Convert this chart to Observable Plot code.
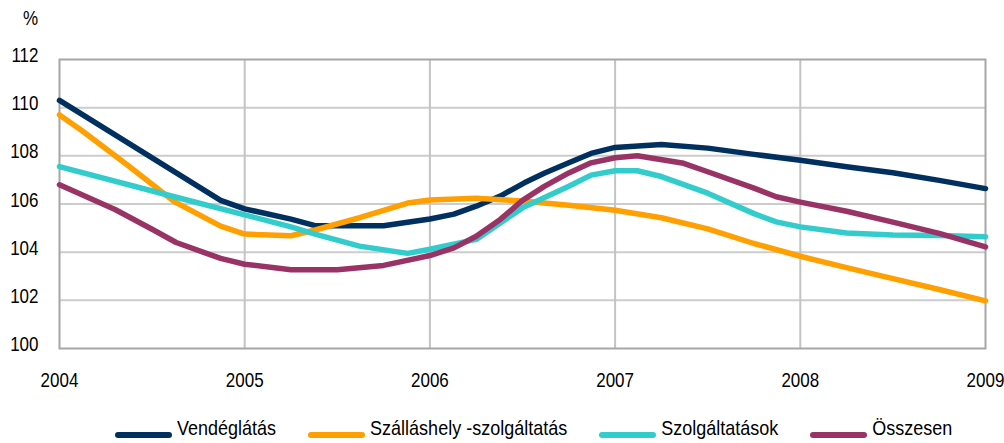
<!DOCTYPE html>
<html>
<head>
<meta charset="utf-8">
<script src="https://cdn.jsdelivr.net/npm/d3@7"></script>
<script src="https://cdn.jsdelivr.net/npm/@observablehq/plot@0.6"></script>
<style>
  html, body { margin: 0; padding: 0; background: #fff; }
  body { width: 1004px; height: 443px; position: relative; overflow: hidden; font-family: "Liberation Sans", Arial, sans-serif; }
  #unit { position: absolute; left: 23px; top: 9px; font-size: 17px; color: #000; transform: scaleY(1.2); }
  #legend { position: absolute; left: 115px; top: 419px; display: flex; gap: 32px; font-size: 18px; line-height: 21px; color: #000; white-space: nowrap; }
  .item { display: flex; align-items: center; }
  .item span { display: inline-block; transform: scaleY(1.08); }
  .sw { width: 57px; height: 6px; border-radius: 3px; margin-right: 5px; margin-top: 10px; }
</style>
</head>
<body>
<div id="chart"></div>
<div id="unit">%</div>
<div id="legend"></div>
<script>
const seriesNames = ["Vendéglátás", "Szálláshely -szolgáltatás", "Szolgáltatások", "Összesen"];
const seriesColors = ["#00305f", "#ff9f00", "#33cccc", "#993366"];
const xTicks = [2004, 2005, 2006, 2007, 2008, 2009];
const yTicks = [100, 102, 104, 106, 108, 110, 112];

const vendX = [2004, 2004.87, 2005.0, 2005.25, 2005.38, 2005.75, 2006.0, 2006.13, 2006.25, 2006.38, 2006.51, 2006.62, 2006.75, 2006.87, 2007.0, 2007.25, 2007.5, 2007.75, 2008.0, 2008.25, 2008.5, 2008.75, 2009];
const vendY = [110.3, 106.15, 105.8, 105.37, 105.1, 105.1, 105.38, 105.58, 105.91, 106.33, 106.88, 107.29, 107.71, 108.1, 108.35, 108.47, 108.32, 108.06, 107.82, 107.55, 107.3, 106.98, 106.64];

const szallX = [2004, 2004.12, 2004.37, 2004.62, 2004.87, 2005.0, 2005.25, 2005.38, 2005.62, 2005.88, 2006.0, 2006.25, 2006.5, 2006.75, 2007.0, 2007.25, 2007.5, 2007.75, 2008.0, 2008.25, 2008.5, 2008.75, 2009];
const szallY = [109.7, 109.05, 107.6, 106.1, 105.08, 104.75, 104.68, 104.92, 105.43, 106.04, 106.17, 106.24, 106.12, 105.95, 105.74, 105.43, 104.97, 104.36, 103.83, 103.36, 102.9, 102.45, 101.98];

const szolgX = [2004, 2004.62, 2005.0, 2005.25, 2005.38, 2005.62, 2005.88, 2006.0, 2006.25, 2006.5, 2006.75, 2006.87, 2007.0, 2007.12, 2007.25, 2007.5, 2007.75, 2007.87, 2008.0, 2008.25, 2008.5, 2008.75, 2009];
const szolgY = [107.55, 106.3, 105.55, 105.05, 104.75, 104.25, 103.95, 104.12, 104.53, 105.84, 106.74, 107.2, 107.38, 107.38, 107.14, 106.45, 105.6, 105.26, 105.05, 104.8, 104.71, 104.69, 104.64];

const osszX = [2004, 2004.3, 2004.5, 2004.63, 2004.87, 2005.0, 2005.25, 2005.5, 2005.75, 2006.0, 2006.13, 2006.25, 2006.38, 2006.5, 2006.62, 2006.75, 2006.87, 2007.0, 2007.12, 2007.37, 2007.5, 2007.75, 2007.87, 2008.0, 2008.25, 2008.5, 2008.75, 2009];
const osszY = [106.8, 105.77, 104.95, 104.4, 103.74, 103.5, 103.27, 103.27, 103.45, 103.86, 104.18, 104.66, 105.36, 106.15, 106.74, 107.29, 107.71, 107.92, 108.0, 107.69, 107.34, 106.66, 106.3, 106.08, 105.7, 105.25, 104.78, 104.22];

const xsAll = [vendX, szallX, szolgX, osszX];
const ysAll = [vendY, szallY, szolgY, osszY];
const rows = [];
seriesNames.forEach((name, i) => {
  xsAll[i].forEach((x, j) => rows.push({series: name, x, y: ysAll[i][j]}));
});

const chart = Plot.plot({
  width: 1004,
  height: 412,
  marginLeft: 59,
  marginRight: 19,
  marginTop: 59,
  marginBottom: 64,
  style: {fontFamily: "'Liberation Sans', Arial, sans-serif", fontSize: "17px", color: "#000", background: "#fff"},
  x: {domain: [2004, 2009]},
  y: {domain: [100, 112]},
  color: {domain: seriesNames, range: seriesColors},
  marks: [
    Plot.ruleY(yTicks.slice(1, -1), {stroke: "#cccccc", strokeWidth: 2}),
    Plot.ruleX(xTicks.slice(1, -1), {stroke: "#c4c4c4", strokeWidth: 2}),
    Plot.frame({stroke: "#a6a6a6", strokeWidth: 2}),
    Plot.axisY({ticks: yTicks, tickSize: 0, tickPadding: 21, dy: -4, label: null, fontSize: 17}),
    Plot.axisX({ticks: xTicks, tickSize: 0, tickPadding: 24, tickFormat: d => String(d), label: null, fontSize: 17}),
    Plot.line(rows, {x: "x", y: "y", z: "series", stroke: "series", strokeWidth: 5.5, strokeLinecap: "round", strokeLinejoin: "round", curve: "linear"})
  ]
});
document.getElementById("chart").appendChild(chart);

// slightly taller glyphs, as in the reference
d3.select(chart).selectAll("text").each(function() {
  const t = this.getAttribute("transform") || "";
  this.setAttribute("transform", (t + " scale(1,1.2)").trim());
});

const legend = document.getElementById("legend");
seriesNames.forEach((name, i) => {
  const item = document.createElement("div");
  item.className = "item";
  const sw = document.createElement("div");
  sw.className = "sw";
  sw.style.background = seriesColors[i];
  const lab = document.createElement("span");
  lab.textContent = name;
  item.appendChild(sw);
  item.appendChild(lab);
  legend.appendChild(item);
});
</script>
</body>
</html>
